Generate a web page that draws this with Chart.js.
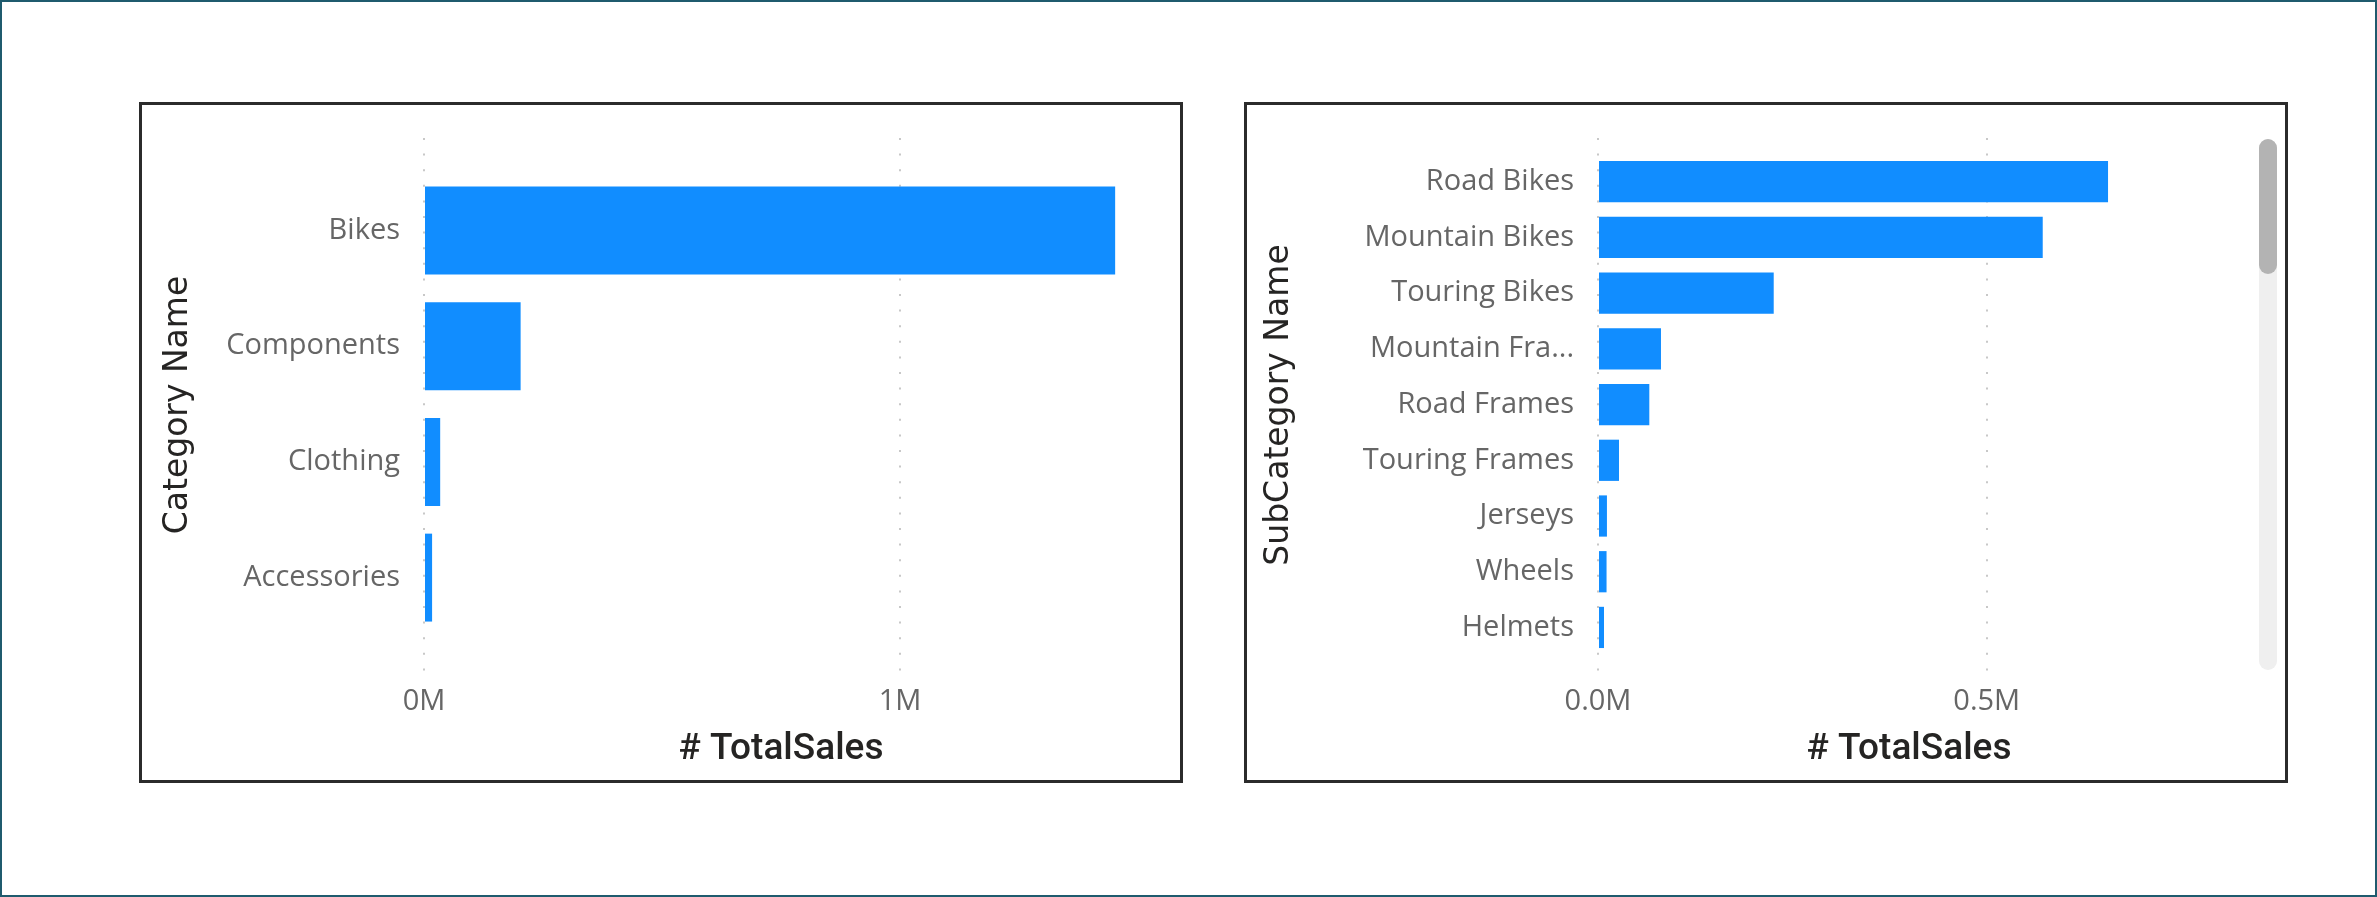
<!DOCTYPE html>
<html>
<head>
<meta charset="utf-8">
<script src="https://cdn.jsdelivr.net/npm/chart.js@4"></script>
<style>
  html, body { margin: 0; padding: 0; background: #ffffff; }
  #page {
    position: relative;
    width: 2377px;
    height: 897px;
    box-sizing: border-box;
    border: 2px solid #1f5b6e;
    background: #ffffff;
    overflow: hidden;
  }
  .panel {
    position: absolute;
    top: 100px;
    width: 1044px;
    height: 681px;
    box-sizing: border-box;
    border: 3px solid #2b2b2b;
    background: #ffffff;
  }
  .panel canvas { position: absolute; left: 0; top: 0; }
  .track {
    position: absolute;
    left: 1012px;
    top: 34px;
    width: 18px;
    height: 531px;
    border-radius: 9px;
    background: #efefef;
  }
  .thumb {
    position: absolute;
    left: 0;
    top: 0;
    width: 18px;
    height: 135px;
    border-radius: 9px;
    background: #b3b3b3;
  }
</style>
</head>
<body>
<div id="page">
  <div class="panel" id="panel-cat" style="left:137px;">
    <canvas id="chart-cat" width="1038" height="675"></canvas>
  </div>
  <div class="panel" id="panel-sub" style="left:1242px;">
    <canvas id="chart-sub" width="1038" height="675"></canvas>
    <div class="track"><div class="thumb"></div></div>
  </div>
</div>
<script>
// Category chart data
const categoryNames = ['Bikes', 'Components', 'Clothing', 'Accessories'];
const categorySales = [1452000, 203000, 34000, 17000];
const categoryTicks = [0, 1000000];

// SubCategory chart data (first rows visible in the scrolled list)
const subCategoryNames = [
  'Road Bikes', 'Mountain Bikes', 'Touring Bikes', 'Mountain Frames',
  'Road Frames', 'Touring Frames', 'Jerseys', 'Wheels', 'Helmets',
];
const subCategorySales = [656000, 572000, 226000, 81000, 66000, 27000, 11500, 11000, 7700];
const subCategoryTicks = [0, 500000];

const BAR_BLUE = '#118DFF';
const LABEL_FONT = "'Open Sans', sans-serif";

Chart.defaults.animation = false;
Chart.defaults.font.family = LABEL_FONT;

/**
 * Shorten long category labels the way the report does
 */
function shortLabel(text) {
  return text.length > 14 ? text.slice(0, 12) + '...' : text;
}

/**
 * Build one horizontal bar chart
 */
function createBarChart(canvasId, names, values, tickValues, opts) {
  const ctx = document.getElementById(canvasId).getContext('2d');

  return new Chart(ctx, {
    type: 'bar',
    data: {
      datasets: [{
        data: names.map((n, i) => ({ x: values[i], y: i })),
        backgroundColor: BAR_BLUE,
        borderWidth: 0,
        categoryPercentage: 1,
        barPercentage: opts.barPct,
      }],
    },
    options: {
      indexAxis: 'y',
      responsive: false,
      layout: { padding: { top: 33, right: opts.padRight, bottom: 0, left: 0 } },
      plugins: {
        legend: { display: false },
        tooltip: { enabled: false },
      },
      scales: {
        x: {
          type: 'linear',
          min: 0,
          max: opts.xMax,
          afterFit: (scale) => {
            scale.height = 108;
            scale.paddingLeft = 0;
            scale.paddingRight = 0;
          },
          afterBuildTicks: (scale) => {
            scale.ticks = tickValues.map((v) => ({ value: v }));
          },
          grid: {
            color: '#c8c8c8',
            lineWidth: 2,
            drawTicks: false,
          },
          border: { display: false, dash: [2, 13.6] },
          ticks: {
            padding: 12,
            color: '#666666',
            font: { size: 29, family: LABEL_FONT },
            callback: opts.tickFormat,
          },
          title: {
            display: true,
            text: '# TotalSales',
            color: '#252423',
            font: { size: 37, family: 'Roboto', weight: '500' },
            padding: { top: 0, bottom: 8 },
          },
        },
        y: {
          type: 'linear',
          reverse: true,
          offset: false,
          min: opts.yMin,
          max: opts.yMax,
          afterFit: (scale) => {
            scale.width = opts.yWidth;
            // labels sit well inside the plot, no extra room needed at the ends
            scale.paddingTop = 0;
            scale.paddingBottom = 0;
          },
          afterBuildTicks: (scale) => {
            scale.ticks = names.map((n, i) => ({ value: i }));
          },
          grid: { display: false, drawTicks: false },
          border: { display: false },
          ticks: {
            padding: 24,
            color: '#666666',
            font: { size: 29, family: LABEL_FONT },
            callback: (value) => shortLabel(names[value] || ''),
          },
          title: {
            display: true,
            text: opts.yTitle,
            color: '#252423',
            font: { size: 33, family: "'DejaVu Sans', sans-serif" },
            padding: { top: opts.yTitlePad, bottom: 0 },
          },
        },
      },
    },
  });
}

createBarChart('chart-cat', categoryNames, categorySales, categoryTicks, {
  barPct: 0.76,
  xMax: 1500000,
  padRight: 42,
  yMin: -0.8,
  yMax: 3.816,
  yWidth: 282,
  yTitle: 'Category Name',
  yTitlePad: 17,
  tickFormat: (v) => (v / 1000000).toFixed(0) + 'M',
});

createBarChart('chart-sub', subCategoryNames, subCategorySales, subCategoryTicks, {
  barPct: 0.74,
  xMax: 800000,
  padRight: 65,
  yMin: -0.785,
  yMax: 8.8,
  yWidth: 351,
  yTitle: 'SubCategory Name',
  yTitlePad: 13,
  tickFormat: (v) => (v / 1000000).toFixed(1) + 'M',
});
</script>
</body>
</html>
